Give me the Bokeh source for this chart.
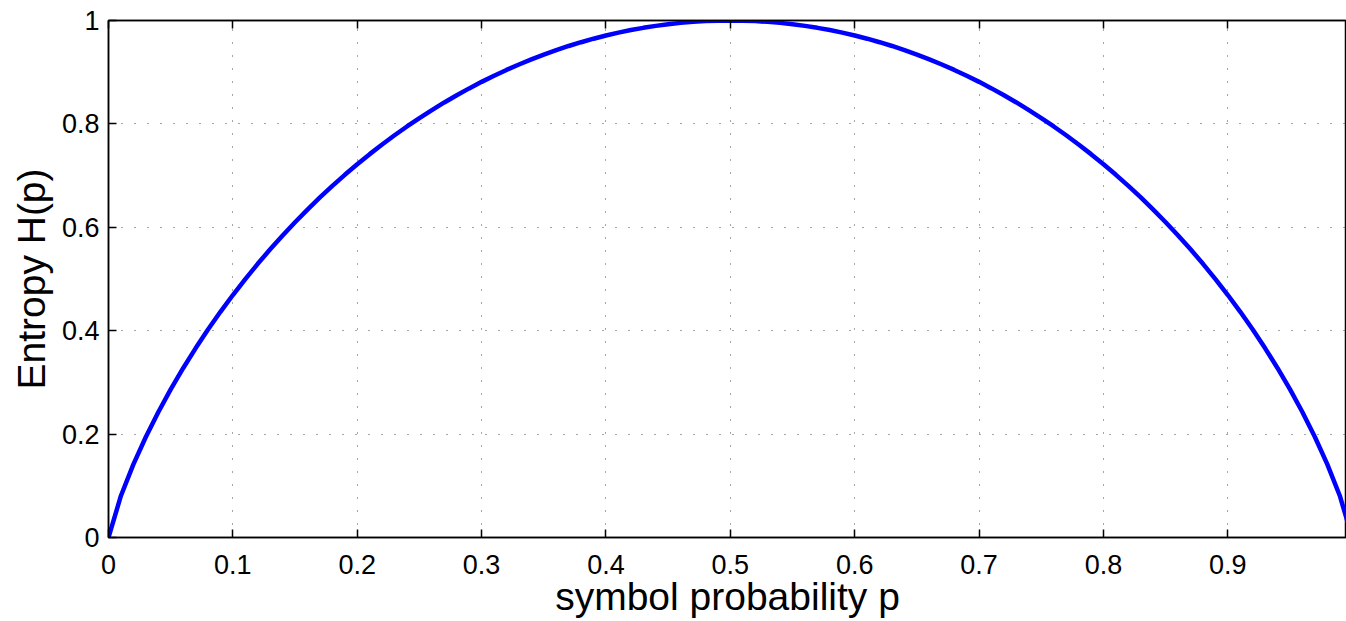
from bokeh.plotting import figure
from bokeh.models import Range1d, FixedTicker, LinearAxis, CustomJSTickFormatter
from bokeh.embed import file_html
from bokeh.resources import INLINE

# symbol probability p
p_vals = [0.0, 0.01, 0.02, 0.03, 0.04, 0.05, 0.06, 0.07, 0.08, 0.09,
          0.10, 0.11, 0.12, 0.13, 0.14, 0.15, 0.16, 0.17, 0.18, 0.19,
          0.20, 0.21, 0.22, 0.23, 0.24, 0.25, 0.26, 0.27, 0.28, 0.29,
          0.30, 0.31, 0.32, 0.33, 0.34, 0.35, 0.36, 0.37, 0.38, 0.39,
          0.40, 0.41, 0.42, 0.43, 0.44, 0.45, 0.46, 0.47, 0.48, 0.49,
          0.50, 0.51, 0.52, 0.53, 0.54, 0.55, 0.56, 0.57, 0.58, 0.59,
          0.60, 0.61, 0.62, 0.63, 0.64, 0.65, 0.66, 0.67, 0.68, 0.69,
          0.70, 0.71, 0.72, 0.73, 0.74, 0.75, 0.76, 0.77, 0.78, 0.79,
          0.80, 0.81, 0.82, 0.83, 0.84, 0.85, 0.86, 0.87, 0.88, 0.89,
          0.90, 0.91, 0.92, 0.93, 0.94, 0.95, 0.96, 0.97, 0.98, 0.99, 1.0]

# entropy H(p)
h_vals = [0.0, 0.0808, 0.1414, 0.1944, 0.2423, 0.2864, 0.3274, 0.3659, 0.4022, 0.4365,
          0.4690, 0.4999, 0.5294, 0.5574, 0.5842, 0.6098, 0.6343, 0.6577, 0.6801, 0.7015,
          0.7219, 0.7415, 0.7602, 0.7780, 0.7950, 0.8113, 0.8267, 0.8415, 0.8555, 0.8687,
          0.8813, 0.8932, 0.9044, 0.9149, 0.9248, 0.9341, 0.9427, 0.9507, 0.9580, 0.9648,
          0.9710, 0.9765, 0.9815, 0.9858, 0.9896, 0.9928, 0.9954, 0.9974, 0.9988, 0.9997,
          1.0000, 0.9997, 0.9988, 0.9974, 0.9954, 0.9928, 0.9896, 0.9858, 0.9815, 0.9765,
          0.9710, 0.9648, 0.9580, 0.9507, 0.9427, 0.9341, 0.9248, 0.9149, 0.9044, 0.8932,
          0.8813, 0.8687, 0.8555, 0.8415, 0.8267, 0.8113, 0.7950, 0.7780, 0.7602, 0.7415,
          0.7219, 0.7015, 0.6801, 0.6577, 0.6343, 0.6098, 0.5842, 0.5574, 0.5294, 0.4999,
          0.4690, 0.4365, 0.4022, 0.3659, 0.3274, 0.2864, 0.2423, 0.1944, 0.1414, 0.0808, 0.0]

x_ticks = [0, 0.1, 0.2, 0.3, 0.4, 0.5, 0.6, 0.7, 0.8, 0.9]
x_tick_labels = ["0", "0.1", "0.2", "0.3", "0.4", "0.5", "0.6", "0.7", "0.8", "0.9"]
y_ticks = [0, 0.2, 0.4, 0.6, 0.8, 1.0]
y_tick_labels = ["0", "0.2", "0.4", "0.6", "0.8", "1"]

FONT = "Liberation Sans"

p = figure(width=1346, height=621, output_backend="svg", toolbar_location=None,
           x_range=Range1d(0, 0.9954), y_range=Range1d(0, 1),
           min_border_left=108, min_border_right=0, min_border_top=20, min_border_bottom=84)

p.line(p_vals, h_vals, line_color="#0000ff", line_width=4.5)

p.outline_line_color = "black"
p.outline_line_width = 1.5

for ax, ticks, labels in ((p.xaxis[0], x_ticks, x_tick_labels), (p.yaxis[0], y_ticks, y_tick_labels)):
    ax.ticker = FixedTicker(ticks=ticks)
    ax.major_label_overrides = {t: l for t, l in zip(ticks, labels)}
    ax.major_tick_in = 8
    ax.major_tick_out = 0
    ax.minor_tick_line_color = None
    ax.axis_line_color = "black"
    ax.axis_line_width = 1.5
    ax.major_tick_line_color = "black"
    ax.major_tick_line_width = 1.5
    ax.major_label_text_font = FONT
    ax.major_label_text_font_size = "27px"
    ax.major_label_text_color = "black"
    ax.axis_label_text_font = FONT
    ax.axis_label_text_font_size = "39px"
    ax.axis_label_text_font_style = "normal"
    ax.axis_label_text_color = "black"

p.xaxis[0].axis_label = "symbol probability p"
p.yaxis[0].axis_label = "Entropy H(p)"
p.xaxis[0].major_label_standoff = 17
p.xaxis[0].axis_label_standoff = -2
p.yaxis[0].major_label_standoff = 9
p.yaxis[0].axis_label_standoff = 6

blank = CustomJSTickFormatter(code="return ''")
top = LinearAxis(ticker=FixedTicker(ticks=x_ticks), formatter=blank, major_label_standoff=0,
                 major_tick_in=8, major_tick_out=0, minor_tick_line_color=None,
                 axis_line_color="black", axis_line_width=1.5, major_tick_line_width=1.5)
p.add_layout(top, "above")

for g in (p.xgrid[0], p.ygrid[0]):
    g.grid_line_color = "black"
    g.grid_line_alpha = 0.7
    g.grid_line_dash = "1 12"
    g.grid_line_width = 1
p.xgrid[0].ticker = FixedTicker(ticks=x_ticks)
p.ygrid[0].ticker = FixedTicker(ticks=y_ticks)

open("out.html", "w").write(file_html(p, INLINE))
